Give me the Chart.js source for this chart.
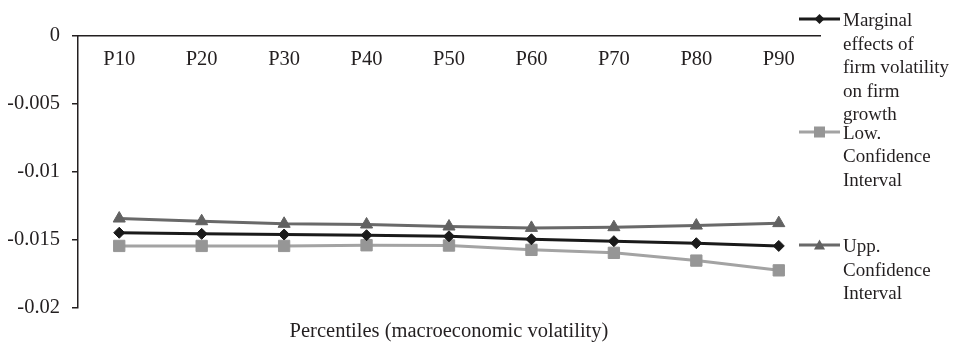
<!DOCTYPE html>
<html>
<head>
<meta charset="utf-8">
<script src="https://cdn.jsdelivr.net/npm/chart.js@4/dist/chart.umd.min.js"></script>
<style>
  html, body { margin: 0; padding: 0; background: #fff; }
  #wrap { position: relative; width: 962px; height: 348px; overflow: hidden; }
  #c { position: absolute; left: 0; top: 0; }
  .lg-item { position: absolute; left: 799px; }
  .lg-text { position: absolute; left: 44px; top: 0; font-family: "Liberation Serif", serif; font-size: 19px; line-height: 23.5px; color: #231f20; white-space: nowrap; }
  .lg-svg { position: absolute; left: 0; }
</style>
</head>
<body>
<div id="wrap">
  <canvas id="c" width="962" height="348"></canvas>
  <div id="legend"></div>
</div>
<script>
// ---- data ----
const categories = ['P10', 'P20', 'P30', 'P40', 'P50', 'P60', 'P70', 'P80', 'P90'];
const marginalEffects = [-0.0145, -0.01458, -0.01463, -0.01468, -0.01476, -0.01498, -0.01512, -0.01527, -0.01547];
const lowConfidence = [-0.01547, -0.01547, -0.01547, -0.01542, -0.01544, -0.01576, -0.01598, -0.01655, -0.01727];
const uppConfidence = [-0.01345, -0.01365, -0.01384, -0.01389, -0.01404, -0.01414, -0.01409, -0.01397, -0.01379];
const seriesNames = [
  ['Marginal', 'effects of', 'firm volatility', 'on firm', 'growth'],
  ['Low.', 'Confidence', 'Interval'],
  ['Upp.', 'Confidence', 'Interval']
];
const xAxisTitle = 'Percentiles (macroeconomic volatility)';
const yTickLabels = ['0', '-0.005', '-0.01', '-0.015', '-0.02'];

const FONT = '"Liberation Serif", serif';
const AXIS_SIZE = 20.5;
const TXT = '#231f20';

const styles = [
  { line: '#1a1a1a', point: '#1a1a1a', shape: 'rectRot', r: 5.5, legendY: 19 },
  { line: '#a3a3a3', point: '#969696', shape: 'rect', r: 8, legendY: 131.5 },
  { line: '#696969', point: '#626262', shape: 'triangle', r: 7, legendY: 245 }
];
const seriesData = [marginalEffects, lowConfidence, uppConfidence];

const datasets = seriesData.map((d, i) => ({
  label: seriesNames[i].join(' '),
  data: d,
  xAxisID: 'x',
  yAxisID: 'y',
  borderColor: styles[i].line,
  backgroundColor: styles[i].point,
  pointBackgroundColor: styles[i].point,
  pointBorderColor: styles[i].point,
  pointBorderWidth: 1,
  pointStyle: styles[i].shape,
  pointRadius: styles[i].r,
  borderWidth: 3,
  tension: 0,
  fill: false
}));

const chart = new Chart(document.getElementById('c'), {
  type: 'line',
  data: { labels: categories, datasets: datasets },
  options: {
    responsive: false,
    animation: false,
    devicePixelRatio: 1,
    layout: { padding: { left: 8, right: 142, top: 36, bottom: 2 } },
    plugins: { legend: { display: false }, tooltip: { enabled: false } },
    scales: {
      x: {
        type: 'category',
        position: { y: 0 },
        offset: true,
        grid: { display: true, drawOnChartArea: false, drawTicks: false, color: '#231f20' },
        border: { display: true, color: '#231f20', width: 1.5 },
        ticks: { color: TXT, font: { family: FONT, size: AXIS_SIZE }, padding: 11, maxRotation: 0, autoSkip: false }
      },
      x2: {
        type: 'category',
        position: 'bottom',
        labels: categories,
        offset: true,
        grid: { display: false },
        border: { display: false },
        ticks: { display: false },
        title: { display: true, text: xAxisTitle, color: TXT, font: { family: FONT, size: AXIS_SIZE }, padding: { top: 4, bottom: 2 } }
      },
      y: {
        type: 'linear',
        position: 'left',
        min: -0.02,
        max: 0,
        grid: { display: true, drawOnChartArea: false, drawTicks: true, tickLength: 6, color: '#231f20', lineWidth: 1.5 },
        border: { display: true, color: '#231f20', width: 1.5 },
        ticks: {
          stepSize: 0.005,
          padding: 12,
          color: TXT,
          font: { family: FONT, size: AXIS_SIZE },
          callback: function (value, index, ticks) {
            return yTickLabels[ticks.length - 1 - index];
          }
        },
        afterFit: function (scale) { scale.width = 70; }
      }
    }
  }
});

// ---- HTML legend ----
const legend = document.getElementById('legend');
seriesNames.forEach((lines, i) => {
  const st = styles[i];
  const item = document.createElement('div');
  item.className = 'lg-item';
  item.style.top = (st.legendY - 11) + 'px';
  const svgNS = 'http://www.w3.org/2000/svg';
  const svg = document.createElementNS(svgNS, 'svg');
  svg.setAttribute('width', '44');
  svg.setAttribute('height', '22');
  svg.setAttribute('class', 'lg-svg');
  svg.style.top = '0px';
  const ln = document.createElementNS(svgNS, 'line');
  ln.setAttribute('x1', '0'); ln.setAttribute('x2', '41');
  ln.setAttribute('y1', '11'); ln.setAttribute('y2', '11');
  ln.setAttribute('stroke', st.line); ln.setAttribute('stroke-width', '3');
  svg.appendChild(ln);
  let m;
  const cx = 20.5, cy = 11;
  if (st.shape === 'rectRot') {
    m = document.createElementNS(svgNS, 'polygon');
    m.setAttribute('points', `${cx - 5},${cy} ${cx},${cy - 5} ${cx + 5},${cy} ${cx},${cy + 5}`);
  } else if (st.shape === 'rect') {
    m = document.createElementNS(svgNS, 'rect');
    m.setAttribute('x', cx - 5.5); m.setAttribute('y', cy - 5.5);
    m.setAttribute('width', 11); m.setAttribute('height', 11);
  } else {
    m = document.createElementNS(svgNS, 'polygon');
    m.setAttribute('points', `${cx - 5.5},${cy + 4.5} ${cx + 5.5},${cy + 4.5} ${cx},${cy - 5.5}`);
  }
  m.setAttribute('fill', st.point);
  svg.appendChild(m);
  item.appendChild(svg);
  const txt = document.createElement('div');
  txt.className = 'lg-text';
  txt.innerHTML = lines.join('<br>');
  txt.style.top = '0px';
  item.appendChild(txt);
  legend.appendChild(item);
});
</script>
</body>
</html>
